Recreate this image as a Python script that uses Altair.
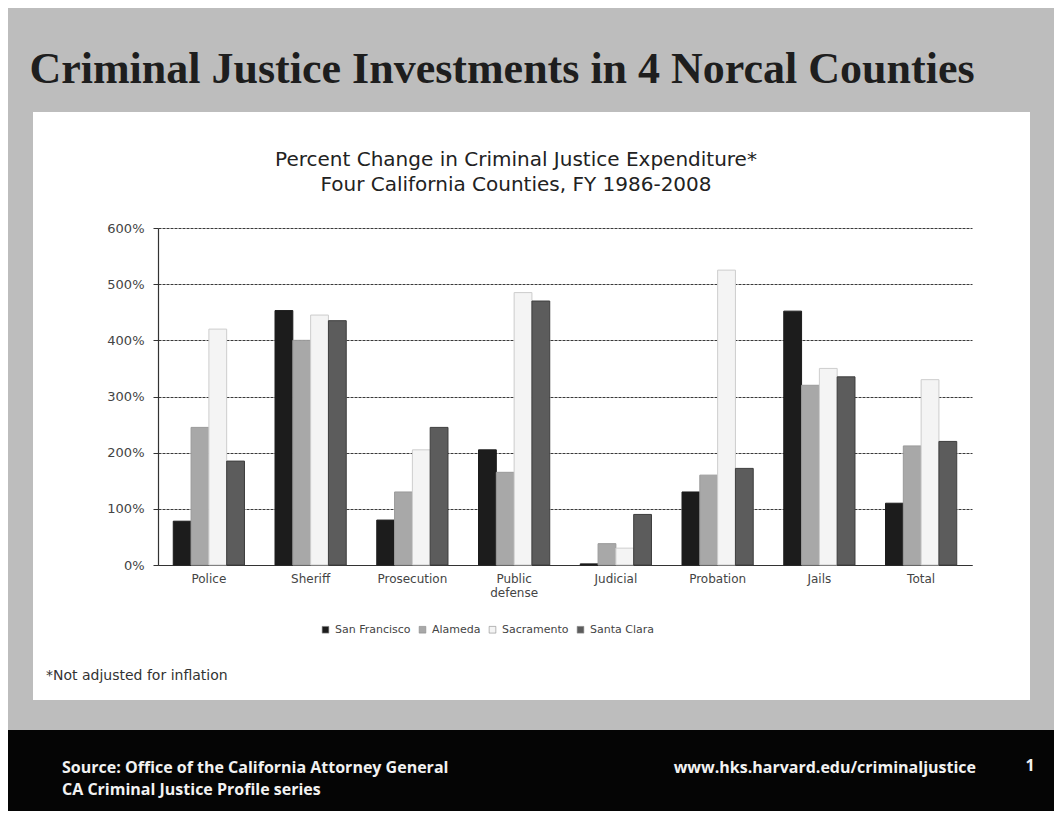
import altair as alt
import pandas as pd

# ---------------- data ----------------
categories = ["Police", "Sheriff", "Prosecution", "Public defense",
              "Judicial", "Probation", "Jails", "Total"]
counties = ["San Francisco", "Alameda", "Sacramento", "Santa Clara"]
san_francisco = [78, 453, 80, 205, 2, 130, 452, 110]
alameda = [245, 400, 130, 165, 38, 160, 320, 212]
sacramento = [420, 445, 205, 485, 30, 525, 350, 330]
santa_clara = [185, 435, 245, 470, 90, 172, 335, 220]
y_ticks = [0, 100, 200, 300, 400, 500, 600]

series = {"San Francisco": san_francisco, "Alameda": alameda,
          "Sacramento": sacramento, "Santa Clara": santa_clara}
rows = []
for c in counties:
    for cat, v in zip(categories, series[c]):
        rows.append({"category": cat, "county": c, "value": v})
df = pd.DataFrame(rows)

bar_fill = ["#1c1c1c", "#a8a8a8", "#f4f4f4", "#5c5c5c"]
bar_stroke = ["#1c1c1c", "#9a9a9a", "#cdcdcd", "#3e3e3e"]

W, H = 814, 337
OX, OY = 158, 228  # page position of plot origin

# decorative slide frame (page coords converted to plot-relative)
def rel(x1, y1, x2, y2, fill):
    return {"x1": x1 - OX, "y1": y1 - OY, "x2": x2 - OX, "y2": y2 - OY, "fill": fill}

frame = pd.DataFrame([
    rel(0, 0, 1062, 112, "#bdbdbd"),
    rel(0, 112, 33, 730, "#bdbdbd"),
    rel(1030, 112, 1062, 730, "#bdbdbd"),
    rel(0, 700, 1062, 730, "#bdbdbd"),
    rel(0, 730, 1062, 819, "#050505"),
])

frame_layer = alt.Chart(frame).mark_rect().encode(
    x=alt.X("x1:Q", scale=None, axis=None),
    x2="x2:Q",
    y=alt.Y("y1:Q", scale=None, axis=None),
    y2="y2:Q",
    fill=alt.Fill("fill:N", scale=None),
)

bars = alt.Chart(df).mark_bar(strokeWidth=1).encode(
    x=alt.X("category:N", sort=categories,
            scale=alt.Scale(paddingInner=0.3, paddingOuter=0.15),
            axis=alt.Axis(title=None, labelAngle=0, ticks=False,
                          labelFont="DejaVu Sans", labelFontSize=12,
                          labelColor="#444", labelPadding=8,
                          domainColor="#333", domainWidth=1.2,
                          labelExpr="datum.value == 'Public defense' ? ['Public', 'defense'] : datum.value")),
    xOffset=alt.XOffset("county:N", sort=counties, scale=alt.Scale(paddingInner=0)),
    y=alt.Y("value:Q", scale=alt.Scale(domain=[0, 600], nice=False),
            axis=alt.Axis(title=None, values=y_ticks,
                          labelExpr="datum.value + '%'",
                          labelFont="DejaVu Sans", labelFontSize=13,
                          labelColor="#444", labelPadding=9,
                          tickSize=5, tickColor="#333",
                          domainColor="#333", domainWidth=1.2,
                          grid=True, gridColor="#3a3a3a", gridWidth=1.2,
                          gridDash=[3, 1])),
    color=alt.Color("county:N", sort=counties,
                    scale=alt.Scale(domain=counties, range=bar_fill),
                    legend=alt.Legend(title=None, orient="none", direction="horizontal",
                                      legendX=162, legendY=396,
                                      symbolType="square", symbolSize=45,
                                      symbolStrokeColor="#888", symbolStrokeWidth=0.6,
                                      labelFont="DejaVu Sans", labelFontSize=11,
                                      labelColor="#444", columnPadding=6)),
    stroke=alt.Stroke("county:N", scale=alt.Scale(domain=counties, range=bar_stroke),
                      legend=None),
)

def txt(text, x, y, size, color, font="DejaVu Sans", weight="normal", align="center"):
    return alt.Chart(pd.DataFrame({"t": [text]})).mark_text(
        font=font, fontSize=size, color=color, fontWeight=weight, align=align,
        baseline="middle").encode(
        x=alt.value(x - OX), y=alt.value(y - OY), text="t:N")

texts = [
    txt("Criminal Justice Investments in 4 Norcal Counties", 502, 70, 44, "#1e1e1e",
        font="Liberation Serif", weight="bold"),
    txt("Percent Change in Criminal Justice Expenditure*", 516, 160, 20, "#222"),
    txt("Four California Counties, FY 1986-2008", 516, 185, 20, "#222"),
    txt("*Not adjusted for inflation", 46, 676, 14, "#333", align="left"),
    txt("Source:  Office of the California Attorney General", 62, 768, 16, "#f2f2f2",
        font="Open Sans", weight="bold", align="left"),
    txt("CA Criminal Justice Profile series", 62, 790, 16, "#f2f2f2",
        font="Open Sans", weight="bold", align="left"),
    txt("www.hks.harvard.edu/criminaljustice", 976, 768, 16, "#f2f2f2",
        font="Open Sans", weight="bold", align="right"),
    txt("1", 1030, 766, 16, "#f2f2f2", font="Open Sans", weight="bold"),
]

chart = alt.layer(frame_layer, bars, *texts).resolve_scale(
    color="independent", fill="independent"
).properties(
    width=W, height=H,
    autosize=alt.AutoSizeParams(type="none"),
    padding={"left": OX - 8, "top": OY - 8, "right": 1046 - (OX - 8) - W,
             "bottom": 803 - (OY - 8) - H},
    background="white",
).configure_view(stroke=None)

chart.save("out.html", embed_options={"renderer": "svg", "actions": False})
